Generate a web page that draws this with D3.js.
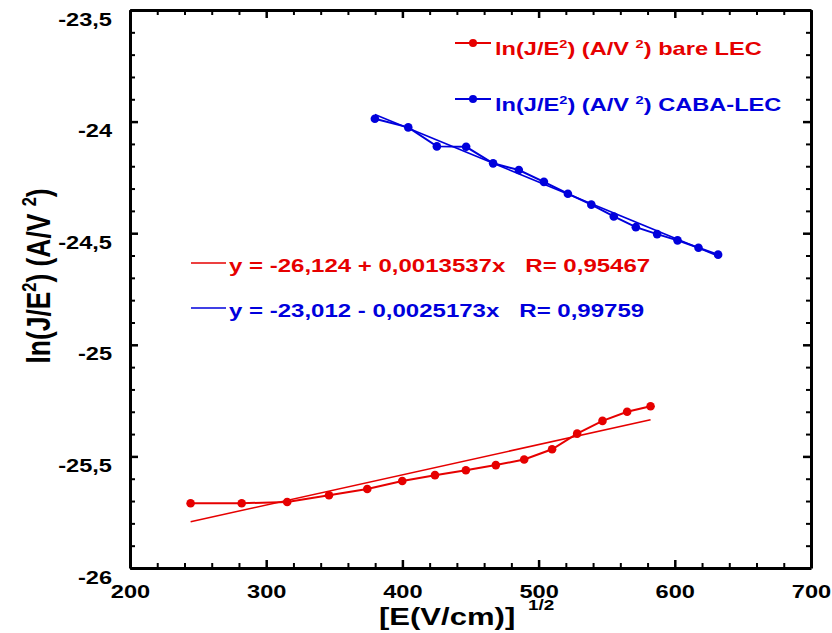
<!DOCTYPE html>
<html>
<head>
<meta charset="utf-8">
<script src="https://cdn.jsdelivr.net/npm/d3@7"></script>
<style>
  body { margin: 0; background: #fff; }
  svg text { font-family: "Liberation Sans", Arial, sans-serif; font-weight: bold; }
</style>
</head>
<body>
<div id="chart"></div>
<script>
// sqrt(E) values and ln(J/E^2)
let bareX = [244.5, 282.0, 315.4, 346.1, 374.2, 399.9, 423.9, 446.6, 468.6, 489.4, 509.9, 528.3, 546.9, 565.0, 582.2];
let bareY = [-25.710, -25.710, -25.704, -25.674, -25.646, -25.610, -25.584, -25.562, -25.539, -25.514, -25.468, -25.398, -25.341, -25.300, -25.275];

let cabaX = [379.8, 404.3, 425.3, 446.8, 466.6, 485.5, 503.9, 521.5, 538.7, 555.2, 571.4, 587.0, 602.0, 617.4, 631.8];
let cabaY = [-23.987, -24.026, -24.111, -24.113, -24.187, -24.217, -24.270, -24.323, -24.372, -24.425, -24.473, -24.504, -24.532, -24.565, -24.596];

// linear fits printed on the chart: [intercept, slope]
let bareFit = [-26.124, 0.0013537];
let cabaFit = [-23.012, -0.0025173];

let xTicks = [200, 300, 400, 500, 600, 700];
let yTicks = [-26, -25.5, -25, -24.5, -24, -23.5];

let red = "#e60000", blue = "#0000dc";
let SX = 1.35; // the figure's lettering is stretched sideways

let width = 832, height = 633;
let plot = {left: 130, right: 811, top: 10, bottom: 568};

let svg = d3.select("#chart").append("svg")
    .attr("width", width)
    .attr("height", height);

let x = d3.scaleLinear().domain([200, 700]).range([plot.left, plot.right]);
let y = d3.scaleLinear().domain([-26, -23.5]).range([plot.bottom, plot.top]);

let fmt = d => String(d).replace(".", ",");

// minor ticks first
let xMinor = d3.range(200, 701, 20).filter(v => v % 100 !== 0);
let yMinor = d3.range(-26, -23.49, 0.1).map(v => +v.toFixed(1)).filter(v => Math.abs(v * 2 - Math.round(v * 2)) > 0.01);

function minor(axis, tr) {
    svg.append("g").attr("transform", tr)
        .call(axis.tickSize(-5).tickSizeOuter(0).tickFormat(""))
        .call(g => g.select(".domain").remove())
        .call(g => g.selectAll("line").attr("stroke-width", 2));
}
minor(d3.axisBottom(x).tickValues(xMinor), `translate(0,${plot.bottom})`);
minor(d3.axisTop(x).tickValues(xMinor), `translate(0,${plot.top})`);
minor(d3.axisLeft(y).tickValues(yMinor), `translate(${plot.left},0)`);
minor(d3.axisRight(y).tickValues(yMinor), `translate(${plot.right},0)`);

function major(axis, tr) {
    return svg.append("g").attr("transform", tr)
        .call(axis.tickSize(-8).tickSizeOuter(0))
        .call(g => g.select(".domain").attr("stroke-width", 3))
        .call(g => g.selectAll("line").attr("stroke-width", 2.5));
}

let xAxisG = major(d3.axisBottom(x).tickValues(xTicks).tickFormat(fmt), `translate(0,${plot.bottom})`);
xAxisG.selectAll("text")
    .attr("y", 30).attr("dy", null)
    .attr("font-size", 17.5).attr("fill", "#000")
    .attr("transform", `scale(${SX},1)`);

let yAxisG = major(d3.axisLeft(y).tickValues(yTicks).tickFormat(fmt), `translate(${plot.left},0)`);
yAxisG.selectAll("text")
    .attr("x", -18 / SX).attr("y", 15).attr("dy", null)
    .attr("font-size", 17.5).attr("fill", "#000")
    .attr("transform", `scale(${SX},1)`);

major(d3.axisTop(x).tickValues(xTicks).tickFormat(""), `translate(0,${plot.top})`);
major(d3.axisRight(y).tickValues(yTicks).tickFormat(""), `translate(${plot.right},0)`);

// text helper with superscripts: parts = [[text, isSup], ...]
function label(px, py, parts, size, color, rot) {
    let g = svg.append("g")
        .attr("transform", rot ? `translate(${px},${py}) rotate(-90) scale(1.1,1.4)`
                               : `translate(${px},${py}) scale(${SX},1)`);
    let t = g.append("text")
        .attr("font-size", size)
        .attr("fill", color)
        .attr("text-anchor", rot ? "middle" : "start");
    parts.forEach(p => {
        if (p[1]) {
            t.append("tspan").attr("font-size", size * 0.62).attr("dy", -size * 0.42).text(p[0]);
            t.append("tspan").attr("dy", size * 0.42).text("\u200b");
        } else {
            t.append("tspan").text(p[0]);
        }
    });
    return t;
}

// axis titles
label(50, 276, [["ln(J/E", 0], ["2", 1], [") (A/V ", 0], ["2", 1], [")", 0]], 24, "#000", true);
label(379, 625, [["[E(V/cm)]", 0]], 23, "#000");
label(528, 610, [["1/2", 0]], 14, "#000");

// fit lines
function fitLine(fit, xs, color) {
    let ext = d3.extent(xs);
    svg.append("line")
        .attr("x1", x(ext[0])).attr("y1", y(fit[0] + fit[1] * ext[0]))
        .attr("x2", x(ext[1])).attr("y2", y(fit[0] + fit[1] * ext[1]))
        .attr("stroke", color).attr("stroke-width", 1.6);
}
fitLine(bareFit, bareX, red);
fitLine(cabaFit, cabaX, blue);

// data series
let line = d3.line().x(d => x(d[0])).y(d => y(d[1]));
function series(xs, ys, color) {
    let pts = xs.map((v, i) => [v, ys[i]]);
    svg.append("path").datum(pts)
        .attr("d", line).attr("fill", "none")
        .attr("stroke", color).attr("stroke-width", 2);
    svg.append("g").selectAll("circle").data(pts).join("circle")
        .attr("cx", d => x(d[0])).attr("cy", d => y(d[1]))
        .attr("r", 4.3).attr("fill", color);
}
series(bareX, bareY, red);
series(cabaX, cabaY, blue);

// legend
[[red, 43, 55, " bare LEC"], [blue, 99, 111, " CABA-LEC"]].forEach(l => {
    svg.append("line").attr("x1", 455).attr("x2", 491).attr("y1", l[1]).attr("y2", l[1])
        .attr("stroke", l[0]).attr("stroke-width", 2);
    svg.append("circle").attr("cx", 473).attr("cy", l[1]).attr("r", 4).attr("fill", l[0]);
    label(495, l[2], [["ln(J/E", 0], ["2", 1], [") (A/V ", 0], ["2", 1], [")" + l[3], 0]], 17.5, l[0]);
});

// equations
[[red, 263, 272, "y = -26,124 + 0,0013537x   R= 0,95467"],
 [blue, 308, 317, "y = -23,012 - 0,0025173x   R= 0,99759"]].forEach(e => {
    svg.append("line").attr("x1", 191).attr("x2", 226).attr("y1", e[1]).attr("y2", e[1])
        .attr("stroke", e[0]).attr("stroke-width", 1.5);
    label(229, e[2], [[e[3].replace(/ {3}/g, "\u00a0\u00a0\u00a0"), 0]], 17.8, e[0]);
});
</script>
</body>
</html>
